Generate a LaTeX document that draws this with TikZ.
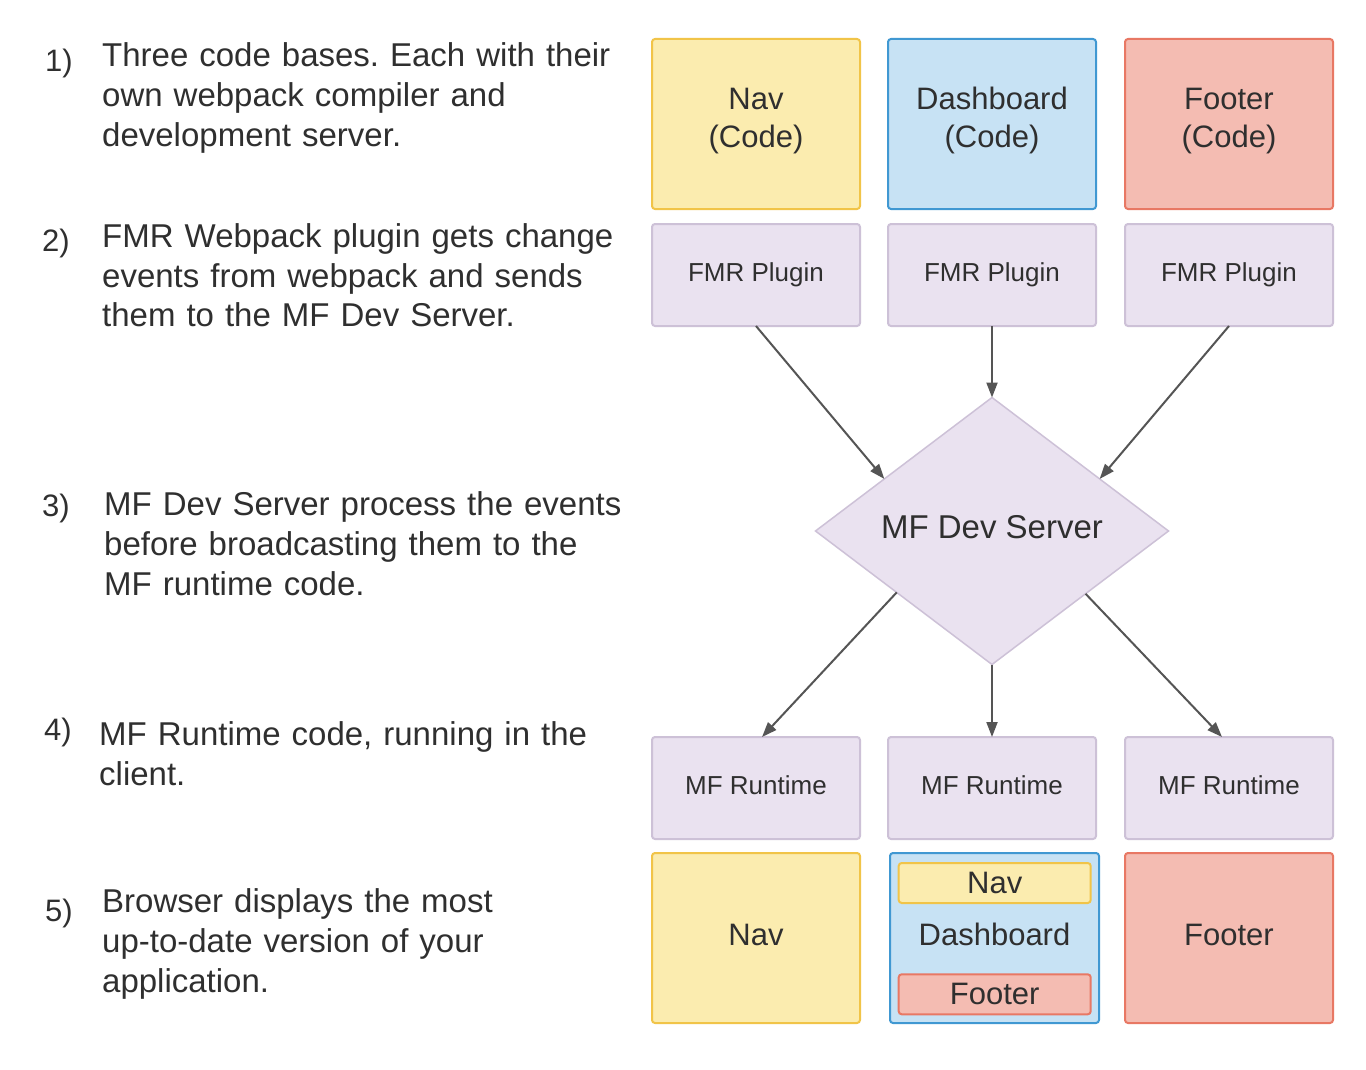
\documentclass[tikz,border=0pt]{standalone}
\usepackage{fontspec}
\setmainfont{Liberation Sans}
\usetikzlibrary{shapes.geometric,arrows.meta,calc}
\definecolor{txt}{HTML}{2F2F2F}
\definecolor{arr}{HTML}{555555}
\definecolor{yfill}{RGB}{251,236,175}
\definecolor{yline}{RGB}{241,196,72}
\definecolor{bfill}{RGB}{199,226,244}
\definecolor{bline}{RGB}{64,152,210}
\definecolor{rfill}{RGB}{244,188,178}
\definecolor{rline}{RGB}{232,120,100}
\definecolor{pfill}{RGB}{234,226,240}
\definecolor{pline}{RGB}{205,193,215}
\frenchspacing
\begin{document}
\begin{tikzpicture}[x=1pt,y=-1pt,
  rbox/.style={draw, rounded corners=3pt, line width=2pt, minimum width=208pt,
    inner sep=0pt, outer sep=0pt, text=txt, align=center},
  codebox/.style={rbox, minimum height=170pt, font=\fontsize{31}{38}\selectfont},
  slimbox/.style={rbox, minimum height=102pt, fill=pfill, draw=pline,
    text height=19pt, text depth=6pt, font=\fontsize{26}{30}\selectfont},
  innerbox/.style={rbox, minimum width=192pt, minimum height=40pt,
    font=\fontsize{31}{38}\selectfont},
  onel/.style={text height=22pt, text depth=8pt},
  ylw/.style={fill=yfill, draw=yline},
  blu/.style={fill=bfill, draw=bline},
  red/.style={fill=rfill, draw=rline},
  descr/.style={anchor=base west, text width=600pt, align=left, inner sep=0pt,
    font=\fontsize{33}{40}\selectfont, text=txt},
  numlbl/.style={anchor=base west, inner sep=0pt,
    font=\fontsize{31}{38}\selectfont, text=txt},
  flow/.style={draw=arr, line width=2pt,
    -{Triangle[length=15pt,width=11pt]}}
]
\useasboundingbox[fill=white] (0,0) rectangle (1366,1070);

% left descriptions
\node[numlbl] (n1) at (45,72) {1)};
\node[descr] (t1) at (102,67) {Three code bases. Each with their\\own webpack compiler and\\development server.};
\node[numlbl] (n2) at (42,251) {2)};
\node[descr] (t2) at (102,247) {FMR Webpack plugin gets change\\events from webpack and sends\\them to the MF Dev Server.};
\node[numlbl] (n3) at (42,516) {3)};
\node[descr] (t3) at (104,515) {MF Dev Server process the events\\before broadcasting them to the\\MF runtime code.};
\node[numlbl] (n4) at (44,740) {4)};
\node[descr] (t4) at (99,745) {MF Runtime code, running in the\\client.};
\node[numlbl] (n5) at (45,921) {5)};
\node[descr] (t5) at (102,912) {Browser displays the most\\up-to-date version of your\\application.};

% code boxes
\node[codebox, ylw, text depth=13pt] (navc) at (756,124) {Nav\\(Code)};
\node[codebox, blu, text depth=13pt] (dashc) at (992,124) {Dashboard\\(Code)};
\node[codebox, red, text depth=13pt] (footc) at (1229,124) {Footer\\(Code)};

% plugins
\node[slimbox] (fmr1) at (756,275) {FMR Plugin};
\node[slimbox] (fmr2) at (992,275) {FMR Plugin};
\node[slimbox] (fmr3) at (1229,275) {FMR Plugin};

% dev server
\node[diamond, aspect=1.32, draw=pline, fill=pfill, line width=1.5pt,
  minimum width=353pt, minimum height=267pt, inner sep=0pt, outer sep=0pt,
  text height=24pt, text depth=10pt,
  font=\fontsize{33}{40}\selectfont, text=txt] (dev) at (992,531) {MF Dev Server};

% runtimes
\node[slimbox] (rt1) at (756,788) {MF Runtime};
\node[slimbox] (rt2) at (992,788) {MF Runtime};
\node[slimbox] (rt3) at (1229,788) {MF Runtime};

% browser result
\node[codebox, ylw, onel] (navb) at (756,938) {Nav};
\node[codebox, blu, onel, minimum width=209pt] (dashb) at (994.5,938) {Dashboard};
\node[innerbox, ylw] (inav) at (994.7,883) {Nav};
\node[innerbox, red] (ifoot) at (994.7,994.3) {Footer};
\node[codebox, red, onel] (footb) at (1229,938) {Footer};

% connectors
\draw[flow] (fmr1.south) -- ($(dev.west)!0.39!(dev.north)$);
\draw[flow] (fmr2.south) -- (dev.north);
\draw[flow] (fmr3.south) -- ($(dev.east)!0.39!(dev.north)$);
\draw[flow] ($(dev.west)!0.46!(dev.south)$) -- ($(rt1.north)+(6,0)$);
\draw[flow] (dev.south) -- (rt2.north);
\draw[flow] ($(dev.east)!0.47!(dev.south)$) -- ($(rt3.north)+(-7,0)$);
\end{tikzpicture}
\end{document}
